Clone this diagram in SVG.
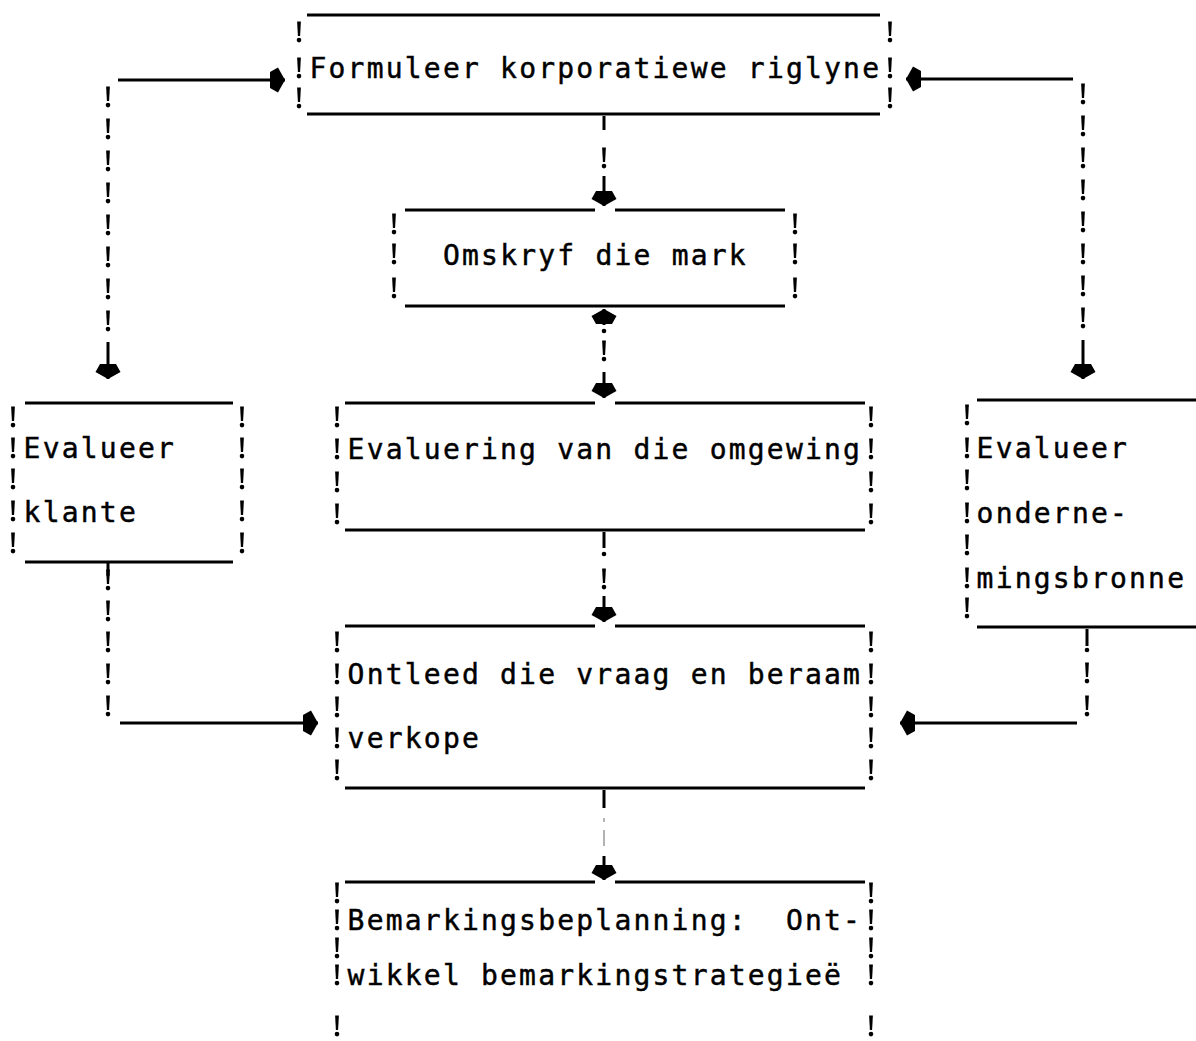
<svg xmlns="http://www.w3.org/2000/svg" xmlns:xlink="http://www.w3.org/1999/xlink" width="1196" height="1041" viewBox="0 0 1196 1041">
  <style>
    .bg { fill: #ffffff; }
    .rule { stroke: #000; stroke-width: 3; fill: none; }
    .stem { stroke: #000; stroke-width: 3; fill: none; }
    .faint { stroke: #9a9a9a; stroke-width: 1.5; fill: none; }
    .lbl { font-family: "DejaVu Sans Mono", "Liberation Mono", monospace; font-size: 28px; letter-spacing: 2.2px; fill: #000; stroke: #000; stroke-width: 0.45px; white-space: pre; }
  </style>
  <defs>
    <!-- typed "!" mark used for box sides and dotted connectors; origin at its baseline -->
    <g id="bang">
      <path d="M-1.9,-20.5 L1.9,-20.5 L1.1,-6 L-1.1,-6 Z" fill="#000"/>
      <circle cx="0" cy="-1.9" r="2.3" fill="#000"/>
    </g>
    <marker id="head" viewBox="-16 -14 17 28" refX="0" refY="0" markerWidth="17" markerHeight="28" orient="auto" markerUnits="userSpaceOnUse">
      <polygon points="0,0 -7,-12.5 -15,-8 -15,8 -7,12.5" fill="#000"/>
    </marker>
  </defs>

  <rect class="bg" x="0" y="0" width="1196" height="1041"/>

  <!-- Formuleer korporatiewe riglyne -->
  <g id="node-riglyne">
    <path class="rule" d="M307,15 H880 M307,114 H880"/>
    <use xlink:href="#bang" x="299" y="42"/><use xlink:href="#bang" x="299" y="78"/><use xlink:href="#bang" x="299" y="108"/>
    <use xlink:href="#bang" x="890" y="42"/><use xlink:href="#bang" x="890" y="78"/><use xlink:href="#bang" x="890" y="108"/>
    <text class="lbl" x="309.5" y="78">Formuleer korporatiewe riglyne</text>
  </g>

  <!-- Omskryf die mark -->
  <g id="node-mark">
    <path class="rule" d="M405,210 H595 M615,210 H785 M405,306 H785"/>
    <use xlink:href="#bang" x="394" y="234"/><use xlink:href="#bang" x="394" y="264"/><use xlink:href="#bang" x="394" y="298"/>
    <use xlink:href="#bang" x="795" y="234"/><use xlink:href="#bang" x="795" y="264"/><use xlink:href="#bang" x="795" y="298"/>
    <text class="lbl" x="443" y="265">Omskryf die mark</text>
  </g>

  <!-- Evalueer klante -->
  <g id="node-klante">
    <path class="rule" d="M25,403 H233 M25,562 H233"/>
    <use xlink:href="#bang" x="13" y="427"/><use xlink:href="#bang" x="13" y="458"/><use xlink:href="#bang" x="13" y="489"/><use xlink:href="#bang" x="13" y="521"/><use xlink:href="#bang" x="13" y="553"/>
    <use xlink:href="#bang" x="242" y="427"/><use xlink:href="#bang" x="242" y="458"/><use xlink:href="#bang" x="242" y="489"/><use xlink:href="#bang" x="242" y="521"/><use xlink:href="#bang" x="242" y="553"/>
    <text class="lbl" x="23.6" y="458">Evalueer</text>
    <text class="lbl" x="23.6" y="522">klante</text>
  </g>

  <!-- Evaluering van die omgewing -->
  <g id="node-omgewing">
    <path class="rule" d="M345,403 H595 M615,403 H865 M345,530 H865"/>
    <use xlink:href="#bang" x="337" y="427"/><use xlink:href="#bang" x="337" y="459"/><use xlink:href="#bang" x="337" y="492"/><use xlink:href="#bang" x="337" y="524"/>
    <use xlink:href="#bang" x="871" y="427"/><use xlink:href="#bang" x="871" y="459"/><use xlink:href="#bang" x="871" y="492"/><use xlink:href="#bang" x="871" y="524"/>
    <text class="lbl" x="347.6" y="459">Evaluering van die omgewing</text>
  </g>

  <!-- Evalueer ondernemingsbronne -->
  <g id="node-bronne">
    <path class="rule" d="M977,400 H1196 M977,627 H1196"/>
    <use xlink:href="#bang" x="967" y="425"/><use xlink:href="#bang" x="967" y="458"/><use xlink:href="#bang" x="967" y="490"/><use xlink:href="#bang" x="967" y="523"/><use xlink:href="#bang" x="967" y="555"/><use xlink:href="#bang" x="967" y="588"/><use xlink:href="#bang" x="967" y="618"/>
    <text class="lbl" x="976.6" y="458">Evalueer</text>
    <text class="lbl" x="976.6" y="523">onderne-</text>
    <text class="lbl" x="976.6" y="588">mingsbronne</text>
  </g>

  <!-- Ontleed die vraag en beraam verkope -->
  <g id="node-verkope">
    <path class="rule" d="M345,626 H595 M615,626 H865 M345,788 H865"/>
    <use xlink:href="#bang" x="337" y="652"/><use xlink:href="#bang" x="337" y="684"/><use xlink:href="#bang" x="337" y="717"/><use xlink:href="#bang" x="337" y="748"/><use xlink:href="#bang" x="337" y="780"/>
    <use xlink:href="#bang" x="871" y="652"/><use xlink:href="#bang" x="871" y="684"/><use xlink:href="#bang" x="871" y="717"/><use xlink:href="#bang" x="871" y="748"/><use xlink:href="#bang" x="871" y="780"/>
    <text class="lbl" x="347.6" y="684">Ontleed die vraag en beraam</text>
    <text class="lbl" x="347.6" y="748">verkope</text>
  </g>

  <!-- Bemarkingsbeplanning -->
  <g id="node-strategie">
    <path class="rule" d="M345,882 H595 M615,882 H865"/>
    <use xlink:href="#bang" x="337" y="903"/><use xlink:href="#bang" x="337" y="930"/><use xlink:href="#bang" x="337" y="958"/><use xlink:href="#bang" x="337" y="985"/><use xlink:href="#bang" x="337" y="1036"/>
    <use xlink:href="#bang" x="871" y="903"/><use xlink:href="#bang" x="871" y="930"/><use xlink:href="#bang" x="871" y="958"/><use xlink:href="#bang" x="871" y="985"/><use xlink:href="#bang" x="871" y="1036"/>
    <text class="lbl" x="347.6" y="930">Bemarkingsbeplanning:  Ont-</text>
    <text class="lbl" x="347.6" y="985">wikkel bemarkingstrategieë</text>
  </g>

  <!-- connectors: solid stems and rules carry the arrowheads, typed marks fill the dotted runs -->
  <g id="connectors">
    <!-- riglyne -> mark -->
    <path class="stem" d="M604,116 V130"/>
    <use xlink:href="#bang" x="604" y="168"/>
    <path class="stem" d="M604,176 V206" marker-end="url(#head)"/>

    <!-- mark <-> omgewing -->
    <path class="stem" d="M604,325 V309" marker-end="url(#head)"/>
    <circle cx="604" cy="331" r="2.3" fill="#000"/>
    <use xlink:href="#bang" x="604" y="361"/>
    <path class="stem" d="M604,372 V398" marker-end="url(#head)"/>

    <!-- omgewing -> verkope -->
    <path class="stem" d="M604,532 V548"/>
    <circle cx="604" cy="554" r="2.3" fill="#000"/>
    <use xlink:href="#bang" x="604" y="589"/>
    <path class="stem" d="M604,596 V622" marker-end="url(#head)"/>

    <!-- verkope -> strategie -->
    <path class="stem" d="M604,790 V808"/>
    <path class="faint" d="M604,818 V822 M604,830 V846"/>
    <path class="stem" d="M604,856 V880" marker-end="url(#head)"/>

    <!-- klante <-> riglyne -->
    <path class="stem" d="M118,80 H285" marker-end="url(#head)"/>
    <use xlink:href="#bang" x="108" y="107"/><use xlink:href="#bang" x="108" y="139"/><use xlink:href="#bang" x="108" y="171"/><use xlink:href="#bang" x="108" y="203"/>
    <use xlink:href="#bang" x="108" y="235"/><use xlink:href="#bang" x="108" y="267"/><use xlink:href="#bang" x="108" y="299"/><use xlink:href="#bang" x="108" y="331"/>
    <path class="stem" d="M108,342 V379" marker-end="url(#head)"/>

    <!-- bronne <-> riglyne -->
    <path class="stem" d="M1073,79 H906" marker-end="url(#head)"/>
    <use xlink:href="#bang" x="1083" y="104"/><use xlink:href="#bang" x="1083" y="136"/><use xlink:href="#bang" x="1083" y="168"/><use xlink:href="#bang" x="1083" y="200"/>
    <use xlink:href="#bang" x="1083" y="232"/><use xlink:href="#bang" x="1083" y="264"/><use xlink:href="#bang" x="1083" y="296"/><use xlink:href="#bang" x="1083" y="328"/>
    <path class="stem" d="M1083,340 V379" marker-end="url(#head)"/>

    <!-- klante -> verkope -->
    <path class="stem" d="M108,563 V576"/>
    <use xlink:href="#bang" x="108" y="590"/><use xlink:href="#bang" x="108" y="621"/><use xlink:href="#bang" x="108" y="652"/><use xlink:href="#bang" x="108" y="684"/><use xlink:href="#bang" x="108" y="716"/>
    <path class="stem" d="M120,723 H318" marker-end="url(#head)"/>

    <!-- bronne -> verkope -->
    <path class="stem" d="M1087,629 V646"/>
    <circle cx="1087" cy="650" r="2.3" fill="#000"/>
    <use xlink:href="#bang" x="1087" y="683"/><use xlink:href="#bang" x="1087" y="716"/>
    <path class="stem" d="M1077,723 H900" marker-end="url(#head)"/>
  </g>
</svg>
